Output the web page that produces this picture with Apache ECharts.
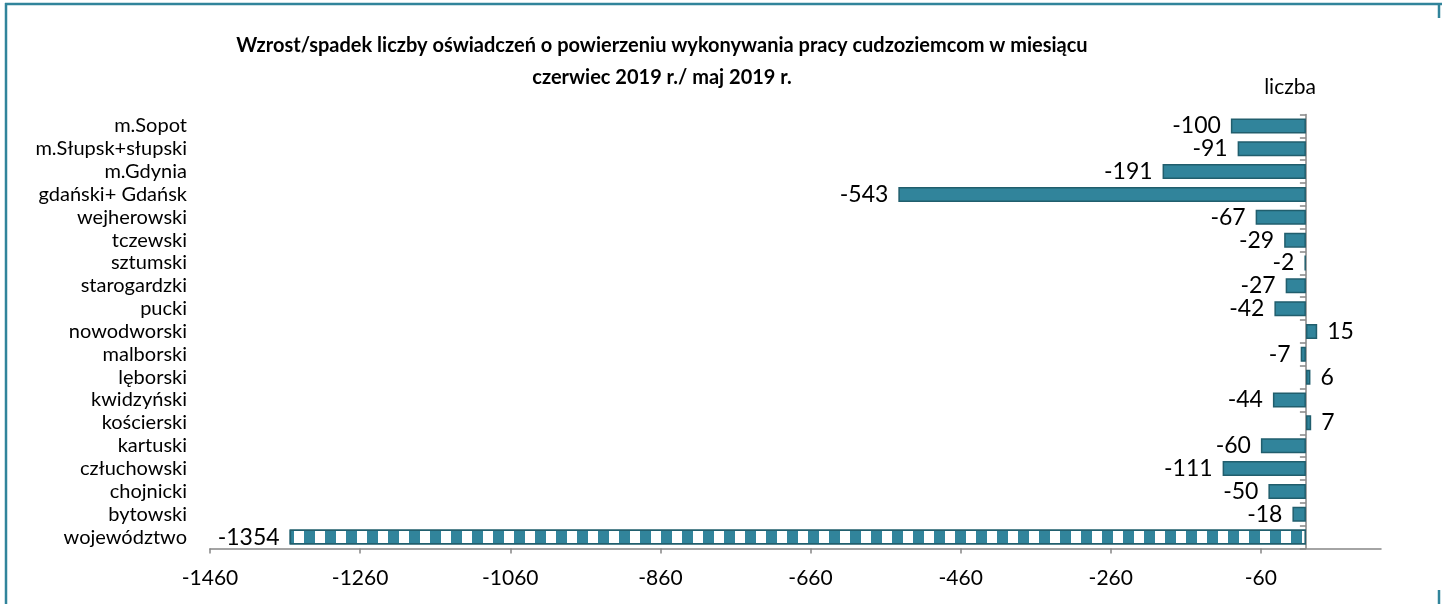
<!DOCTYPE html>
<html>
<head>
<meta charset="utf-8">
<script src="https://cdn.jsdelivr.net/npm/echarts@6/dist/echarts.min.js"></script>
<style>
html,body{margin:0;padding:0;background:#fff;}
#chart{width:1442px;height:604px;}
</style>
</head>
<body>
<div id="chart"></div>
<script>
var powiaty = ['m.Sopot','m.Słupsk+słupski','m.Gdynia','gdański+ Gdańsk','wejherowski','tczewski','sztumski',
    'starogardzki','pucki','nowodworski','malborski','lęborski','kwidzyński','kościerski','kartuski',
    'człuchowski','chojnicki','bytowski','województwo'];
var zmiana = [-100,-91,-191,-543,-67,-29,-2,-27,-42,15,-7,6,-44,7,-60,-111,-50,-18,-1354];
var xTicks = [-1460,-1260,-1060,-860,-660,-460,-260,-60];

var teal = '#31849B';
var font = 'Lato, "Noto Sans", sans-serif';

var seriesData = zmiana.map(function(v, i){
    var item = {
        value: v,
        label: {position: v < 0 ? 'left' : 'right'}
    };
    if (powiaty[i] == 'województwo') {
        // kratka jak w oryginale
        item.itemStyle = {
            decal: {
                symbol: 'rect',
                symbolSize: 1,
                color: '#ffffff',
                dashArrayX: [[10, 11]],
                dashArrayY: [100, 0],
                rotation: 0
            }
        };
    }
    return item;
});

var myChart = echarts.init(document.getElementById('chart'));
var option = {
    backgroundColor: '#fff',
    textStyle: {fontFamily: font},
    graphic: [
        {type:'line', shape:{x1:5, y1:4, x2:1442, y2:4}, style:{stroke:teal, lineWidth:2.5}},
        {type:'line', shape:{x1:6, y1:3, x2:6, y2:604}, style:{stroke:teal, lineWidth:2.5}},
        {type:'line', shape:{x1:1439, y1:3, x2:1439, y2:18}, style:{stroke:teal, lineWidth:2.5}},
        {type:'line', shape:{x1:1439, y1:590, x2:1439, y2:604}, style:{stroke:teal, lineWidth:2.5}},
        {type:'text', x:662, y:46, style:{
            text:'Wzrost/spadek liczby oświadczeń o powierzeniu wykonywania pracy cudzoziemcom w miesiącu',
            font:'bold 20px ' + font, fill:'#000', align:'center', verticalAlign:'middle'}},
        {type:'text', x:662, y:78, style:{
            text:'czerwiec 2019 r./ maj 2019 r.',
            font:'bold 20px ' + font, fill:'#000', align:'center', verticalAlign:'middle'}},
        {type:'text', x:1290, y:87, style:{
            text:'liczba', font:'21px ' + font, fill:'#000', align:'center', verticalAlign:'middle'}}
    ],
    grid: {left: 210, right: 61, top: 114.5, bottom: 55.5, containLabel: false},
    xAxis: {
        type: 'value',
        min: -1460,
        max: 100,
        splitLine: {show: false},
        axisLine: {show: true, onZero: false, lineStyle: {color: '#868686', width: 1.5}},
        axisTick: {show: true, length: 5, customValues: xTicks, lineStyle: {color: '#868686', width: 1.5}},
        axisLabel: {
            customValues: xTicks, color: '#000', fontSize: 21, margin: 19, fontFamily: font,
            formatter: function(v){ return String(v); }
        }
    },
    yAxis: [
        {
            type: 'category',
            data: powiaty,
            inverse: true,
            axisLine: {show: false},
            axisTick: {show: false},
            axisLabel: {color: '#000', fontSize: 20, margin: 23, interval: 0, fontFamily: font}
        },
        {
            // os w punkcie zero
            type: 'category',
            data: powiaty,
            inverse: true,
            position: 'right',
            offset: -75.1,
            axisLine: {show: true, onZero: false, lineStyle: {color: '#868686', width: 1.5}},
            axisTick: {show: true, inside: true, length: 6, interval: 0, lineStyle: {color: '#868686', width: 1.5}},
            axisLabel: {show: false}
        }
    ],
    series: [{
        type: 'bar',
        yAxisIndex: 0,
        data: seriesData,
        barWidth: 15,
        itemStyle: {color: teal, borderColor: '#215E6D', borderWidth: 1.5},
        label: {show: true, color: '#000', fontSize: 23, distance: 10, fontFamily: font},
        labelLayout: {hideOverlap: false},
        animation: false
    }],
    animation: false
};
myChart.setOption(option);
</script>
</body>
</html>
